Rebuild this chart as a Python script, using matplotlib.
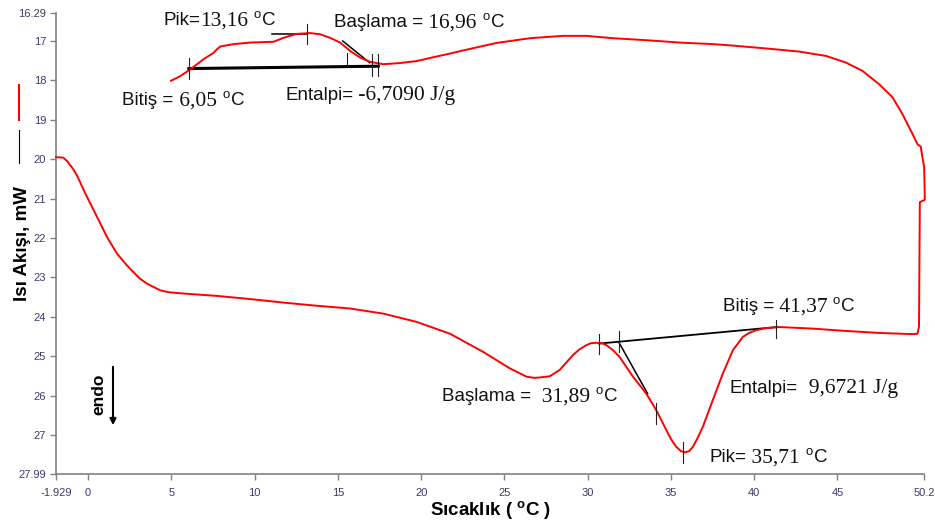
import matplotlib
matplotlib.use("Agg")
import matplotlib.pyplot as plt
from matplotlib.lines import Line2D
from matplotlib.offsetbox import TextArea, HPacker, AnnotationBbox

plt.rcParams['font.family'] = ['Liberation Sans', 'DejaVu Sans']
plt.rcParams['mathtext.default'] = 'regular'

# ---- data: DSC loop (temperature, heat flow) ----
temp = [-1.929, -1.5, -1.26, -0.9, -0.66, -0.16, 0.34, 1.14, 1.74, 2.34, 2.73, 3.1, 3.54, 4.34,
        4.9, 5.73, 7.74, 9.73, 11.73, 13.73, 15.73, 17.73, 19.73, 21.73, 23.72, 25.33, 26.33,
        26.8, 27.12, 27.72, 28.32, 29.12, 29.5, 29.92, 30.2, 30.52, 30.85, 31.12, 31.5, 31.92,
        32.72, 33.52, 34.12, 34.72, 35.0, 35.32, 35.6, 35.82, 36.1, 36.32, 36.6, 36.92, 37.52,
        38.12, 38.72, 39.32, 39.7, 40.12, 40.7, 41.52, 43.52, 45.52,
        47.51, 49.51, 49.81, 49.90, 49.95, 50.25, 50.21, 50.0, 49.81, 49.51, 48.91, 48.31,
        47.51, 46.51, 45.52, 44.32, 42.72, 40.72, 38.52, 37.52, 35.52, 33.52, 31.52, 29.92,
        28.52, 26.53, 24.53, 22.53, 21.73, 20.55, 19.73, 18.73, 17.73, 17.33, 16.93, 16.33,
        15.73, 15.13, 14.53, 13.93, 13.33, 12.53, 11.73, 11.13, 9.73, 8.74, 7.94, 7.74,
        7.54, 6.94, 6.14, 5.54, 4.98]
heat_flow = [19.95, 19.96, 20.05, 20.25, 20.42, 20.88, 21.30, 21.98, 22.40, 22.70, 22.87, 23.03, 23.16, 23.33,
             23.38, 23.41, 23.47, 23.55, 23.64, 23.72, 23.79, 23.92, 24.13, 24.43, 24.89, 25.31, 25.52,
             25.55, 25.54, 25.51, 25.35, 24.97, 24.83, 24.72, 24.67, 24.66, 24.67, 24.72, 24.84, 25.02,
             25.52, 25.95, 26.37, 26.87, 27.10, 27.30, 27.41, 27.44, 27.41, 27.30, 27.08, 26.79, 26.11,
             25.44, 24.85, 24.51, 24.41, 24.34, 24.29, 24.26, 24.30, 24.36,
             24.41, 24.44, 24.43, 24.25, 21.09, 21.03, 20.21, 19.68, 19.62, 19.36, 18.86, 18.43,
             18.10, 17.76, 17.55, 17.38, 17.27, 17.19, 17.11, 17.08, 17.04, 16.98, 16.93, 16.87,
             16.87, 16.93, 17.05, 17.24, 17.32, 17.43, 17.51, 17.56, 17.59, 17.56, 17.53, 17.42,
             17.25, 17.04, 16.92, 16.83, 16.80, 16.82, 16.92, 17.02, 17.04, 17.08, 17.14, 17.21,
             17.30, 17.46, 17.72, 17.89, 18.01]

# analysis construction lines (x pair, y pair)
base_lines = [((6.05, 17.43), (17.70, 17.64), 2.2),
              ((30.68, 41.37), (24.68, 24.26), 1.3)]
tangent_lines = [((15.29, 16.9), (17.0, 17.55)),
                 ((11.03, 13.13), (16.83, 16.83)),
                 ((31.89, 33.6), (24.66, 25.95))]
marker_ticks = [(6.05, 17.42, 17.97), (17.03, 17.34, 17.89), (17.43, 17.34, 17.89),
                (15.53, 17.31, 17.60), (13.16, 16.58, 17.08),
                (30.68, 24.43, 24.95), (31.89, 24.36, 24.89), (34.12, 26.20, 26.72),
                (35.71, 27.17, 27.70), (41.30, 24.09, 24.53)]

# annotation labels: (x, y, label, value, unit)
labels = [(4.52, 16.49, "Pik=", "13,16", " $^o$C"),
          (14.77, 16.54, "Başlama =", " 16,96", " $^o$C"),
          (2.06, 18.52, "Bitiş =", " 6,05", " $^o$C"),
          (11.83, 18.39, "Entalpi=", " -6,7090 J/g", ""),
          (38.10, 23.75, "Bitiş =", " 41,37", " $^o$C"),
          (38.52, 25.81, "Entalpi=", "  9,6721 J/g", ""),
          (21.23, 26.03, "Başlama =", "  31,89", " $^o$C"),
          (37.32, 27.58, "Pik=", " 35,71", " $^o$C")]

xticks = [-1.929, 0, 5, 10, 15, 20, 25, 30, 35, 40, 45, 50.2]
xtick_labels = ["-1.929", "0", "5", "10", "15", "20", "25", "30", "35", "40", "45", "50.2"]
yticks = [16.29, 17, 18, 19, 20, 21, 22, 23, 24, 25, 26, 27, 27.99]
ytick_labels = ["16.29", "17", "18", "19", "20", "21", "22", "23", "24", "25", "26", "27", "27.99"]

W, H = 935, 527
fig = plt.figure(figsize=(W / 100, H / 100), dpi=100)
ax = fig.add_axes([56 / W, 53 / H, (924 - 56) / W, (474 - 13) / H])

ax.plot(temp, heat_flow, color='#ff0000', lw=1.4, clip_on=False, zorder=3,
        solid_joinstyle='round')

for xs, ys, lw in base_lines:
    ax.plot(xs, ys, color='black', lw=lw, zorder=2)
for xs, ys in tangent_lines:
    ax.plot(xs, ys, color='black', lw=1.1, zorder=2)
for x, y0, y1 in marker_ticks:
    ax.plot([x, x], [y0, y1], color='#222222', lw=0.8, zorder=4)

for x, y, lab, val, unit in labels:
    parts = [TextArea(lab, textprops=dict(family='Liberation Sans', size=13.5, color='#111111')),
             TextArea(val, textprops=dict(family='Liberation Serif', size=15.5, color='#111111'))]
    if unit:
        parts.append(TextArea(unit, textprops=dict(family='Liberation Sans', size=13.5, color='#111111')))
    box = HPacker(children=parts, align='baseline', pad=0, sep=0)
    ab = AnnotationBbox(box, (x, y), xycoords='data', box_alignment=(0, 0.5),
                        frameon=False, pad=0, zorder=5)
    ax.add_artist(ab)

ax.set_xlim(-1.929, 50.2)
ax.set_ylim(27.99, 16.29)
ax.set_xticks(xticks)
ax.set_xticklabels(xtick_labels)
ax.set_yticks(yticks)
ax.set_yticklabels(ytick_labels)
for s in ['top', 'right']:
    ax.spines[s].set_visible(False)
for s in ['left', 'bottom']:
    ax.spines[s].set_color('#808080')
    ax.spines[s].set_linewidth(1.2)
ax.tick_params(axis='both', direction='out', length=4, width=1, color='#808080',
               labelsize=8, labelcolor='#3b3b6b')
ax.tick_params(axis='x', pad=6)
ax.tick_params(axis='y', pad=3)

fig.text(491 / W, 1 - 510 / H, "Sıcaklık ( $^o$C )", ha='center', va='center',
         fontsize=13.5, fontweight='bold')
fig.text(23 / W, 1 - 243 / H, "Isı Akışı, mW", ha='center', va='center', rotation=90,
         fontsize=13.5, fontweight='bold')
fig.text(99 / W, 1 - 394 / H, "endo", ha='center', va='center', rotation=90,
         fontsize=12.5, fontweight='bold')
ax.annotate('', xy=(113 / W, 1 - 428 / H), xytext=(113 / W, 1 - 364 / H),
            xycoords='figure fraction', textcoords='figure fraction',
            arrowprops=dict(arrowstyle='-|>', color='black', lw=1.5, mutation_scale=9))

fig.add_artist(Line2D([19 / W, 19 / W], [1 - 85 / H, 1 - 120 / H], color='red', lw=1.5))
fig.add_artist(Line2D([19 / W, 19 / W], [1 - 130 / H, 1 - 163 / H], color='black', lw=0.8))

fig.savefig("out.png", dpi=100)
